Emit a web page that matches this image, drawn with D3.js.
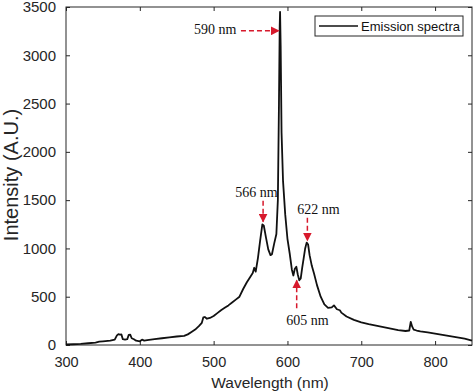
<!DOCTYPE html>
<meta charset="utf-8">
<head>
  <style>
    body { margin: 0; background: #fff; }
    .tick text { font-family: "Liberation Sans", Arial, sans-serif; fill: #262626; }
  </style>
  <title></title>
</head>
<body>
<div id="my_dataviz"></div>
<script src="https://d3js.org/d3.v7.min.js"></script>
<script>

// emission spectrum
var wavelength = [300, 310, 320, 330, 340, 345, 350, 360, 366, 369, 371, 373, 375, 377, 380, 383, 385, 387, 389, 392, 395, 400, 403, 406,
  410, 420, 430, 440, 450, 460, 465, 470, 475, 480, 484, 486, 488, 491, 495, 500, 505, 510, 515, 520, 525, 530, 535, 540, 545,
  550, 553, 555, 557, 560, 563, 566, 568, 571, 574, 577, 579, 582, 585, 587, 588.5, 589.5, 590, 590.8, 592, 594, 597, 600, 603,
  606, 608, 610, 612, 614, 616, 618, 620, 622, 624, 626, 628, 630, 633, 636, 640, 645, 650, 655, 660, 663, 667, 671, 673, 680,
  690, 700, 710, 720, 730, 740, 750, 760, 765, 767, 769, 771, 775, 780, 790, 800, 810, 820, 830, 840, 850];
var intensity = [5, 8, 12, 18, 25, 35, 38, 45, 55, 100, 112, 108, 110, 60, 55, 60, 105, 108, 70, 60, 45, 38, 55, 45,
  50, 60, 70, 80, 88, 95, 110, 135, 160, 195, 230, 285, 290, 272, 280, 300, 330, 360, 385, 410, 440, 470, 500, 580, 650,
  710, 745, 800, 760, 900, 1080, 1250, 1235, 1110, 990, 930, 940, 1050, 1150, 1500, 2500, 3300, 3450, 3100, 2200, 1700, 1350, 1100, 950,
  780, 720, 790, 810, 730, 670, 690, 800, 900, 1000, 1060, 1040, 930, 820, 740, 620, 500, 420, 385, 390, 410, 370, 360, 335, 295,
  260, 235, 215, 200, 185, 170, 155, 145, 150, 240, 190, 160, 150, 140, 130, 118, 105, 92, 80, 65, 45];

var xTicks = [300, 400, 500, 600, 700, 800];
var yTicks = [0, 500, 1000, 1500, 2000, 2500, 3000, 3500];

// peak labels: text, label point, arrow start and end (data units)
var peakLabels = ["590 nm", "566 nm", "622 nm", "605 nm"];
var labelAt = [[502, 3275], [558, 1585], [642, 1410], [627, 257]];
var arrowFrom = [[537, 3253], [567, 1493], [627, 1318], [612.5, 381]];
var arrowTo = [[588.3, 3253], [567, 1277], [627, 1081], [612.5, 669]];

var data = wavelength.map(function(w, i) { return {w: w, v: intensity[i]}; });

var margin = {top: 7, right: 2, bottom: 47, left: 66},
    width = 474 - margin.left - margin.right,
    height = 392 - margin.top - margin.bottom;

var svg = d3.select("#my_dataviz")
  .append("svg")
    .attr("width", width + margin.left + margin.right)
    .attr("height", height + margin.top + margin.bottom)
  .append("g")
    .attr("transform", "translate(" + margin.left + "," + margin.top + ")");

var x = d3.scaleLinear().domain([300, 850]).range([0, width]);
var y = d3.scaleLinear().domain([0, 3500]).range([height, 0]);
var fmt = d3.format("d");

// axes, MATLAB style: inward ticks on all sides
var axisColor = "#262626";
function styleAxis(g) {
  g.select(".domain").remove();
  g.selectAll(".tick line").attr("stroke", axisColor);
}
svg.append("g")
  .attr("transform", "translate(0," + height + ")")
  .call(d3.axisBottom(x).tickValues(xTicks).tickFormat(fmt).tickSizeInner(-4).tickSizeOuter(0).tickPadding(12))
  .call(styleAxis)
  .selectAll("text").style("font-size", "14.5px");
svg.append("g")
  .call(d3.axisTop(x).tickValues(xTicks).tickSizeInner(-4).tickSizeOuter(0).tickFormat(""))
  .call(styleAxis);
svg.append("g")
  .call(d3.axisLeft(y).tickValues(yTicks).tickFormat(fmt).tickSizeInner(-4).tickSizeOuter(0).tickPadding(10))
  .call(styleAxis)
  .selectAll("text").style("font-size", "15px");
svg.append("g")
  .attr("transform", "translate(" + width + ",0)")
  .call(d3.axisRight(y).tickValues(yTicks).tickSizeInner(-4).tickSizeOuter(0).tickFormat(""))
  .call(styleAxis);

svg.append("rect")
  .attr("width", width).attr("height", height)
  .attr("fill", "none").attr("stroke", axisColor).attr("stroke-width", 1);

// spectrum
svg.append("path")
  .datum(data)
  .attr("fill", "none")
  .attr("stroke", "#111")
  .attr("stroke-width", 1.8)
  .attr("stroke-linejoin", "round")
  .attr("d", d3.line().x(function(d) { return x(d.w); }).y(function(d) { return y(d.v); }));

// peak annotations
svg.append("defs").append("marker")
  .attr("id", "head")
  .attr("viewBox", "0 0 10 10")
  .attr("refX", 9).attr("refY", 5)
  .attr("markerWidth", 6).attr("markerHeight", 6)
  .attr("orient", "auto")
  .append("path").attr("d", "M0,0L10,5L0,10Z").attr("fill", "#d7192c");

peakLabels.forEach(function(t, i) {
  svg.append("line")
    .attr("x1", x(arrowFrom[i][0])).attr("y1", y(arrowFrom[i][1]))
    .attr("x2", x(arrowTo[i][0])).attr("y2", y(arrowTo[i][1]))
    .attr("stroke", "#d7192c").attr("stroke-width", 1.5)
    .attr("stroke-dasharray", "5,3")
    .attr("marker-end", "url(#head)");
  svg.append("text")
    .attr("x", x(labelAt[i][0])).attr("y", y(labelAt[i][1]))
    .attr("dy", "0.35em")
    .attr("text-anchor", "middle")
    .style("font", "14px 'Liberation Serif', 'Times New Roman', serif")
    .style("fill", "#111")
    .text(t);
});

// legend
var legend = svg.append("g").attr("transform", "translate(" + (315 - margin.left) + "," + (16 - margin.top) + ")");
legend.append("rect")
  .attr("width", 148).attr("height", 20)
  .attr("fill", "#fff").attr("stroke", axisColor).attr("stroke-width", 1);
legend.append("line")
  .attr("x1", 4).attr("x2", 43).attr("y1", 10).attr("y2", 10)
  .attr("stroke", "#111").attr("stroke-width", 1.7);
legend.append("text")
  .attr("x", 46).attr("y", 10).attr("dy", "0.35em")
  .style("font", "13px 'Liberation Sans', Arial, sans-serif")
  .style("fill", "#111")
  .text("Emission spectra");

// axis titles
svg.append("text")
  .attr("transform", "translate(" + (18 - margin.left) + "," + (175 - margin.top) + ") rotate(-90)")
  .attr("text-anchor", "middle")
  .style("font", "20px 'Liberation Sans', Arial, sans-serif")
  .style("fill", axisColor)
  .text("Intensity (A.U.)");
svg.append("text")
  .attr("x", 270 - margin.left)
  .attr("y", 388 - margin.top)
  .attr("text-anchor", "middle")
  .style("font", "15.5px 'Liberation Sans', Arial, sans-serif")
  .style("fill", axisColor)
  .text("Wavelength (nm)");

</script>
</body>
